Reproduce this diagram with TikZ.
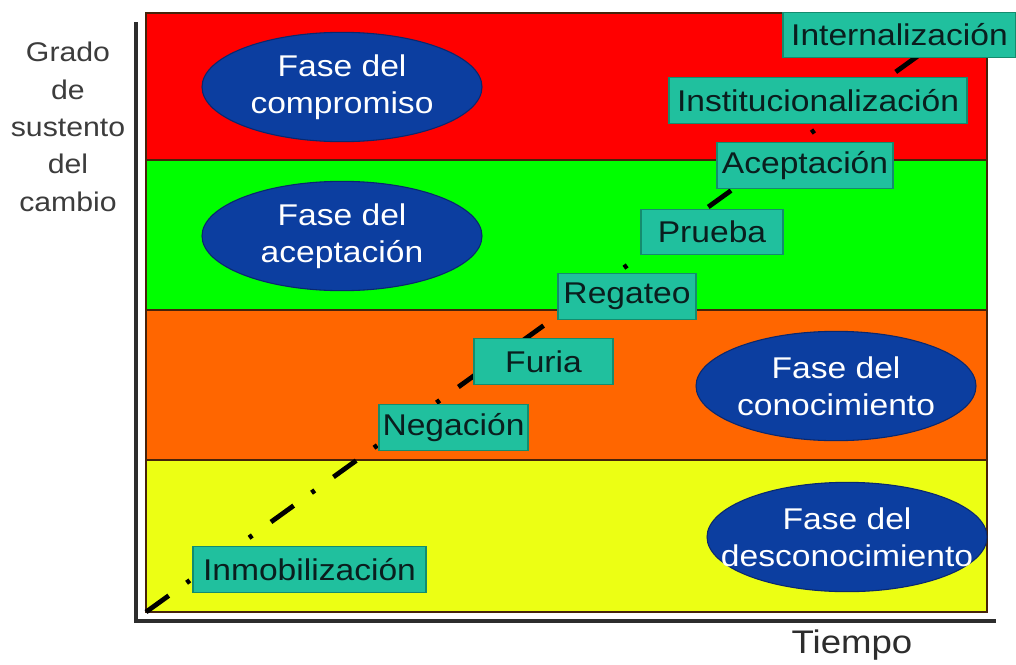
\documentclass[tikz,border=0pt]{standalone}
\usepackage{fontspec}
\setmainfont{Liberation Sans}[FakeStretch=1.12]
\usetikzlibrary{shapes.geometric}
\definecolor{bandred}{RGB}{255,0,0}
\definecolor{bandgreen}{RGB}{0,255,0}
\definecolor{bandorange}{RGB}{255,102,0}
\definecolor{bandyellow}{RGB}{236,255,20}
\definecolor{bandline}{RGB}{70,35,10}
\definecolor{tealfill}{RGB}{32,192,158}
\definecolor{tealline}{RGB}{20,140,110}
\definecolor{boxtext}{RGB}{10,30,30}
\definecolor{phaseblue}{RGB}{12,62,160}
\definecolor{phaseline}{RGB}{10,40,110}
\definecolor{labelgray}{RGB}{60,60,60}
\definecolor{axisgray}{RGB}{45,45,45}
\tikzset{
  band/.style={draw=bandline, line width=1.1pt},
  stagebox/.style={draw=tealline, line width=0.8pt, fill=tealfill, text=boxtext,
    inner sep=0pt, minimum height=34pt, font=\fontsize{22.5}{27}\selectfont},
  phaseoval/.style={ellipse, draw=phaseline, line width=0.8pt, fill=phaseblue,
    minimum width=210pt, minimum height=82pt, inner sep=0pt},
  phasetext/.style={text=white, align=center, inner sep=0pt,
    font=\fontsize{22.5}{27.75}\selectfont},
  axisline/.style={draw=axisgray, line width=3pt},
  trend/.style={draw=black, line width=3.6pt,
    dash pattern=on 21pt off 16.5pt on 3pt off 17.25pt},
  axislabel/.style={text=labelgray, align=center, inner sep=0pt},
}
\begin{document}
\begin{tikzpicture}[x=0.75pt, y=-0.75pt]
\useasboundingbox (0,0) rectangle (1016,664);
\fill[white] (0,0) rectangle (1016,664);
% bands
\filldraw[band, fill=bandred]    (146,13)  rectangle (987,160);
\filldraw[band, fill=bandgreen]  (146,160) rectangle (987,310);
\filldraw[band, fill=bandorange] (146,310) rectangle (987,460);
\filldraw[band, fill=bandyellow] (146,460) rectangle (987,612);
% axes
\coordinate (ytop) at (136,22);
\coordinate (origin) at (136,621);
\coordinate (xend) at (996,621);
\draw[axisline] (ytop) -- (origin) -- (xend);
% trend line
\coordinate (ls) at (146,612);
\coordinate (le) at (940,40);
\draw[trend] (ls) -- (le);
% stage boxes
\node[stagebox, minimum width=174.75pt] (intern) at (899.5,35) {Internalización};
\node[stagebox, minimum width=223.5pt] (instit) at (818,100.5) {Institucionalización};
\node[stagebox, minimum width=132pt] (acept) at (805,165.5) {Aceptación};
\node[stagebox, minimum width=106.5pt] (prueba) at (712,232) {Prueba};
\node[stagebox, minimum width=103.5pt] (regateo) at (627,296.5) {Regateo};
\node[stagebox, minimum width=104.25pt] (furia) at (543.5,361.5) {Furia};
\node[stagebox, minimum width=111.75pt] (negacion) at (453.5,427.5) {Negación};
\node[stagebox, minimum width=174.75pt, minimum height=35pt] (inmob) at (309.5,569.5) {Inmobilización};
% phase ellipses
\node[phaseoval] (compromiso) at (342,87) {};
\node[phasetext] (compromisot) at (compromiso) {Fase del\\compromiso};
\node[phaseoval] (aceptacion) at (342,236) {};
\node[phasetext] (aceptaciont) at (aceptacion) {Fase del\\aceptación};
\node[phaseoval] (conocimiento) at (836,386) {};
\node[phasetext] (conocimientot) at (conocimiento) {Fase del\\conocimiento};
\node[phaseoval] (desconocimiento) at (847,537) {};
\node[phasetext] (desconocimientot) at (desconocimiento) {Fase del\\desconocimiento};
% axis labels
\node[axislabel, font=\fontsize{20.25}{28}\selectfont] (ylabel) at (68,127)
  {Grado\\de\\sustento\\del\\cambio};
\node[axislabel, text=axisgray, font=\fontsize{24.5}{28}\selectfont] (xlabel) at (852,645) {Tiempo};
\end{tikzpicture}
\end{document}
